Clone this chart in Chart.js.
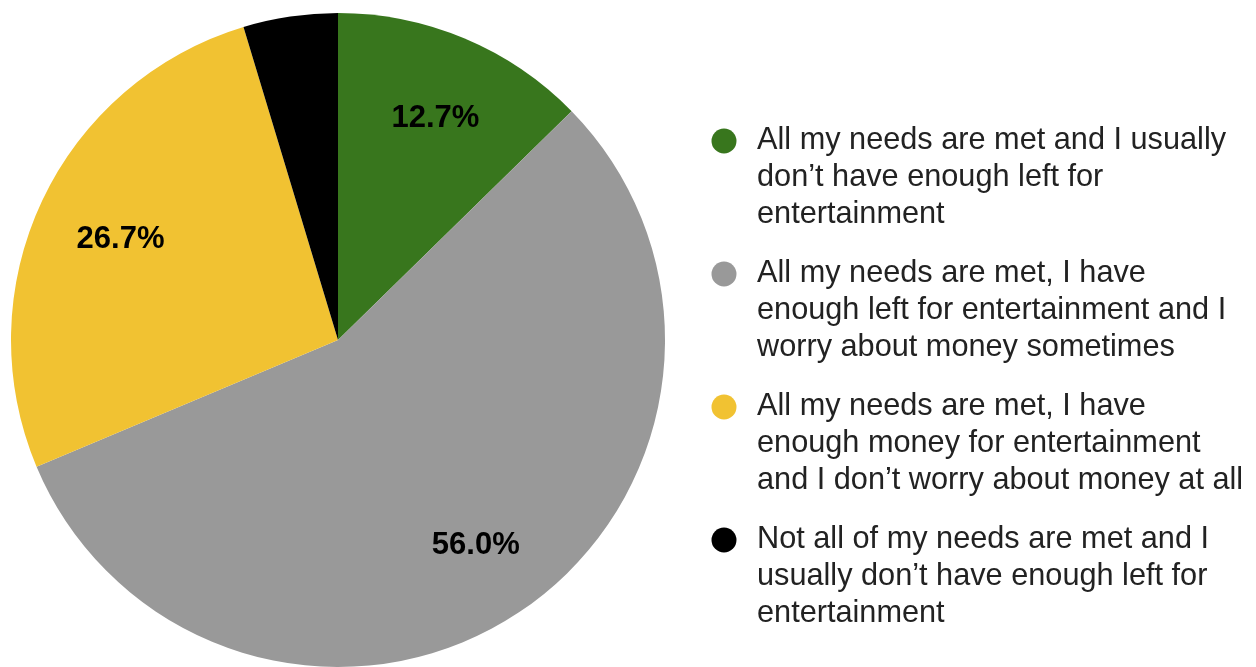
<!DOCTYPE html>
<html>
<head>
<meta charset="utf-8">
<title>Money and entertainment</title>
<script src="https://cdn.jsdelivr.net/npm/chart.js@4.4.1/dist/chart.umd.min.js"></script>
<style>
  html, body { margin: 0; padding: 0; background: #fff; }
  #wrap { width: 1256px; height: 667px; position: relative; }
</style>
</head>
<body>
<div id="wrap"><canvas id="myChart"></canvas></div>
<script>
// answers, each already split into the lines shown in the legend
var categories = [
    ['All my needs are met and I usually', 'don\u2019t have enough left for', 'entertainment'],
    ['All my needs are met, I have', 'enough left for entertainment and I', 'worry about money sometimes'],
    ['All my needs are met, I have', 'enough money for entertainment', 'and I don\u2019t worry about money at all'],
    ['Not all of my needs are met and I', 'usually don\u2019t have enough left for', 'entertainment']
];
var responses = [19, 84, 40, 7];
var colors = ['#38761d', '#999999', '#f1c232', '#000000'];

Chart.defaults.font.family = '"Liberation Sans", Arial, sans-serif';

// percentage text inside each slice (small slices are left blank)
var sliceLabels = {
    id: 'sliceLabels',
    afterDatasetsDraw: function (chart) {
        var ctx = chart.ctx;
        var data = chart.data.datasets[0].data;
        var total = data.reduce(function (a, b) { return a + b; }, 0);
        var meta = chart.getDatasetMeta(0);
        ctx.save();
        ctx.font = 'bold 31px "Liberation Sans", Arial, sans-serif';
        ctx.fillStyle = '#000';
        ctx.textAlign = 'center';
        ctx.textBaseline = 'middle';
        meta.data.forEach(function (arc, i) {
            var share = data[i] / total * 100;
            if (share < 5) return;
            var p = arc.getProps(['x', 'y', 'startAngle', 'endAngle', 'outerRadius'], true);
            var mid = (p.startAngle + p.endAngle) / 2;
            var r = p.outerRadius * 0.745;
            ctx.fillText(share.toFixed(1) + '%', p.x + Math.cos(mid) * r + 3, p.y + Math.sin(mid) * r + 3);
        });
        ctx.restore();
    }
};

// legend on the right with wrapped lines
var sideLegend = {
    id: 'sideLegend',
    afterDraw: function (chart) {
        var ctx = chart.ctx;
        var labels = chart.data.labels;
        var bg = chart.data.datasets[0].backgroundColor;
        var lineH = 37, gap = 22;
        var y = 141;
        ctx.save();
        ctx.font = '30.7px "Liberation Sans", Arial, sans-serif';
        ctx.textBaseline = 'middle';
        ctx.textAlign = 'left';
        labels.forEach(function (lines, i) {
            ctx.fillStyle = bg[i];
            ctx.beginPath();
            ctx.arc(724, y, 12.5, 0, Math.PI * 2);
            ctx.fill();
            ctx.fillStyle = '#222';
            lines.forEach(function (line, j) {
                ctx.fillText(line, 757, y + j * lineH);
            });
            y += lines.length * lineH + gap;
        });
        ctx.restore();
    }
};

var ctx = document.getElementById('myChart').getContext('2d');
var myChart = new Chart(ctx, {
    type: 'pie',
    data: {
        labels: categories,
        datasets: [{
            data: responses,
            backgroundColor: colors,
            borderWidth: 0,
            hoverOffset: 0
        }]
    },
    options: {
        responsive: true,
        maintainAspectRatio: false,
        animation: false,
        layout: { padding: { left: 10, right: 590, top: 13, bottom: 0 } },
        plugins: {
            legend: { display: false },
            tooltip: { enabled: false }
        }
    },
    plugins: [sliceLabels, sideLegend]
});
</script>
</body>
</html>
